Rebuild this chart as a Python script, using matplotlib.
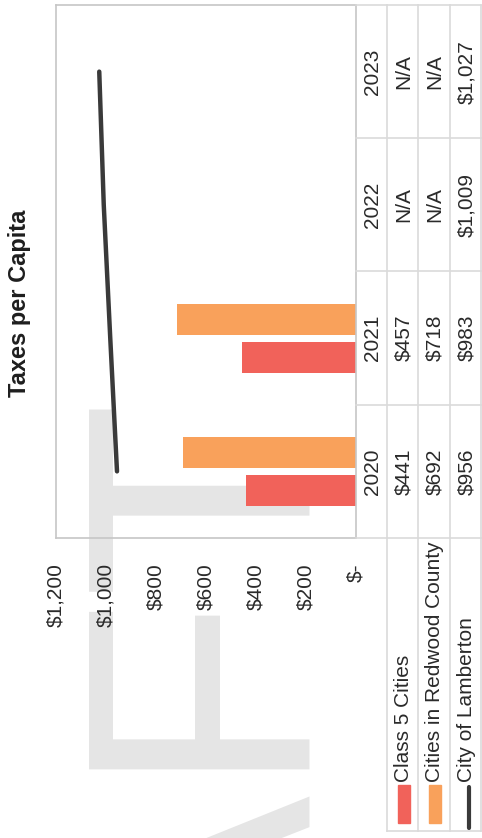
import numpy as np
import matplotlib
matplotlib.use("Agg")
import matplotlib.pyplot as plt
from matplotlib.patches import Rectangle
from matplotlib.lines import Line2D
from matplotlib.transforms import blended_transform_factory

years = ["2020", "2021", "2022", "2023"]
class5 = [441, 457, None, None]
redwood = [692, 718, None, None]
lamberton = [956, 983, 1009, 1027]
series_names = ["Class 5 Cities", "Cities in Redwood County", "City of Lamberton"]
value_ticks = [0, 200, 400, 600, 800, 1000, 1200]

RED = "#F1625A"
ORANGE = "#F9A15B"
DARK = "#3a3a3a"
GRID = "#dadada"
TXT = "#2a2a2a"
FONT = "Liberation Sans"

W, H = 482, 838
plt.rcParams["font.family"] = [FONT, "DejaVu Sans"]
fig = plt.figure(figsize=(W / 100, H / 100), dpi=100)


def fx(px):
    return px / W


def fy(py):
    return 1 - py / H


def money(v):
    return "N/A" if v is None else f"${v:,.0f}"


def to_arr(vals):
    return np.array([np.nan if v is None else v for v in vals], dtype=float)


# watermark behind the chart
fig.text(fx(285), fy(374), "DRAFT", rotation=90, rotation_mode="anchor",
         ha="right", va="baseline", fontsize=232, color="#e5e5e5",
         family=FONT, zorder=-5)

# plot area (sideways: categories run bottom to top, values grow leftwards)
left, right, top, bottom = 56, 356, 5, 538
ax = fig.add_axes([fx(left), fy(bottom), fx(right - left), (bottom - top) / H])
ax.set_facecolor("none")
ypos = np.arange(len(years))
ax.set_ylim(-0.5, len(years) - 0.5)
ax.set_xlim(1200, 0)

ax.barh(ypos - 0.143, to_arr(class5), height=0.233, color=RED, zorder=2)
ax.barh(ypos + 0.143, to_arr(redwood), height=0.233, color=ORANGE, zorder=2)
ax.plot(lamberton, ypos, color=DARK, lw=3.2, solid_capstyle="round", zorder=3)

ax.set_xticks(value_ticks)
ax.set_xticklabels(["$-" if v == 0 else f"${v:,}" for v in value_ticks])
ax.tick_params(axis="x", length=0, pad=18, labelrotation=90, labelsize=15,
               labelcolor=TXT)
ax.set_yticks([])
for s in ax.spines.values():
    s.set_color("#c6c6c6")
    s.set_linewidth(1.2)

fig.text(fx(20), fy(303), "Taxes per Capita", rotation=90, ha="center",
         va="center", fontsize=17, fontweight="bold", color="#1e1e1e")

# data table to the right of the plot
tr = blended_transform_factory(fig.transFigure, ax.transData)
row_edges = [356, 387, 418, 450, 481]
for xe in row_edges[1:]:
    fig.add_artist(Line2D([fx(xe)] * 2, [-0.5, len(years) - 0.5], transform=tr,
                          color=GRID, lw=1.2))
    fig.add_artist(Line2D([fx(xe)] * 2, [fy(bottom), fy(831)],
                          transform=fig.transFigure, color=GRID, lw=1.2))
for b in np.arange(len(years) + 1) - 0.5:
    fig.add_artist(Line2D([fx(356), fx(481)], [b, b], transform=tr,
                          color=GRID, lw=1.2))
fig.add_artist(Line2D([fx(387), fx(481)], [fy(831)] * 2,
                      transform=fig.transFigure, color=GRID, lw=1.2))

centers = [(a + b) / 2 + 1 for a, b in zip(row_edges[:-1], row_edges[1:])]
rows = [years, [money(v) for v in class5], [money(v) for v in redwood],
        [money(v) for v in lamberton]]
for xc, row in zip(centers, rows):
    for yi, label in zip(ypos, row):
        fig.text(fx(xc), yi, label, transform=tr, rotation=90, ha="center",
                 va="center", fontsize=15, color=TXT)

# legend keys and row labels
for xc, name, kind, col in zip(centers[1:], series_names,
                               ["bar", "bar", "line"], [RED, ORANGE, DARK]):
    if kind == "bar":
        fig.add_artist(Rectangle((fx(xc - 6), fy(823)), 12 / W, 38 / H,
                                 transform=fig.transFigure, color=col))
    else:
        fig.add_artist(Line2D([fx(xc + 2)] * 2, [fy(828), fy(787)],
                              transform=fig.transFigure, color=col, lw=3,
                              solid_capstyle="round"))
    fig.text(fx(xc), fy(782), name, rotation=90, rotation_mode="anchor",
             ha="left", va="center", fontsize=15, color=TXT)

fig.savefig("out.png", dpi=100, facecolor="white")
